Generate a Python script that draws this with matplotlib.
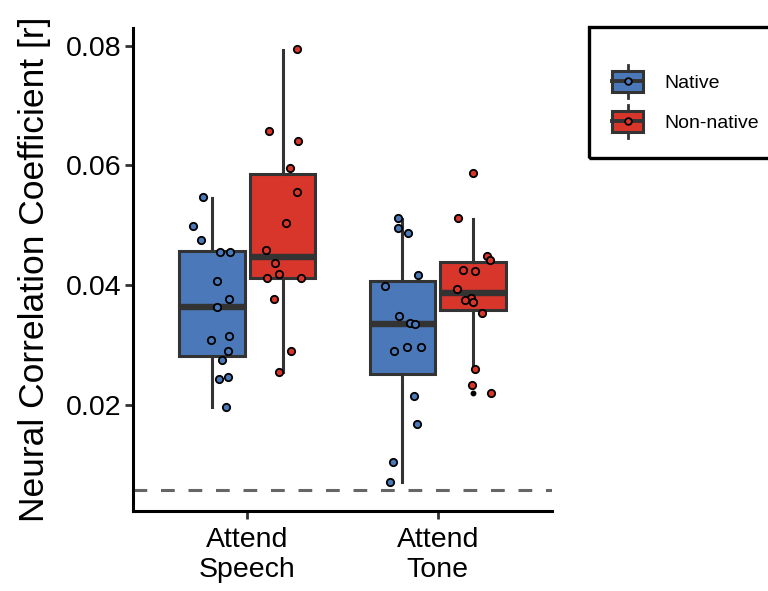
import matplotlib
matplotlib.use("Agg")
import matplotlib.pyplot as plt
from matplotlib.patches import Rectangle, Patch
from matplotlib.lines import Line2D
from matplotlib.legend_handler import HandlerBase

plt.rcParams['font.family'] = ['Liberation Sans', 'DejaVu Sans']

# ---------------- data ----------------
conditions = ["Attend\nSpeech", "Attend\nTone"]
groups = ["Native", "Non-native"]
colors = {"Native": "#4A78B8", "Non-native": "#D8352B"}
edge = "#333333"

# box statistics: (whislo, q1, med, q3, whishi)
box_stats = {
    ("Attend\nSpeech", "Native"):     (0.0196, 0.0282, 0.0363, 0.0457, 0.0545),
    ("Attend\nSpeech", "Non-native"): (0.0254, 0.0411, 0.0447, 0.0585, 0.0793),
    ("Attend\nTone", "Native"):       (0.0070, 0.0252, 0.0334, 0.0407, 0.0510),
    ("Attend\nTone", "Non-native"):   (0.0259, 0.0358, 0.0387, 0.0438, 0.0510),
}
outliers = {
    ("Attend\nSpeech", "Native"): [],
    ("Attend\nSpeech", "Non-native"): [],
    ("Attend\nTone", "Native"): [],
    ("Attend\nTone", "Non-native"): [0.0587, 0.0232, 0.0219],
}

# individual participant values
speech_native = [0.0547, 0.0499, 0.0475, 0.0456, 0.0456, 0.0406, 0.0377, 0.0363,
                 0.0308, 0.0314, 0.0290, 0.0274, 0.0243, 0.0247, 0.0196]
speech_nonnative = [0.0795, 0.0658, 0.0641, 0.0595, 0.0555, 0.0503, 0.0458, 0.0437,
                    0.0418, 0.0411, 0.0412, 0.0377, 0.0290, 0.0254]
tone_native = [0.0512, 0.0495, 0.0487, 0.0416, 0.0399, 0.0348, 0.0336, 0.0334,
               0.0296, 0.0297, 0.0289, 0.0214, 0.0167, 0.0104, 0.0070]
tone_nonnative = [0.0587, 0.0512, 0.0449, 0.0442, 0.0426, 0.0423, 0.0394, 0.0379,
                  0.0375, 0.0372, 0.0353, 0.0259, 0.0232, 0.0219]

# horizontal jitter of each point (category units), as seen in the figure
jit_speech_native = [-0.047, -0.099, -0.059, 0.040, 0.096, 0.028, 0.089, 0.028,
                     -0.005, 0.089, 0.084, 0.054, 0.038, 0.084, 0.072]
jit_speech_nonnative = [0.077, -0.070, 0.080, 0.038, 0.077, 0.017, -0.089, -0.038,
                        -0.019, -0.080, 0.098, -0.046, 0.046, -0.016]
jit_tone_native = [-0.021, -0.025, 0.028, 0.084, -0.093, -0.019, 0.040, 0.064,
                   0.023, 0.096, -0.047, 0.061, 0.077, -0.051, -0.068]
jit_tone_nonnative = [0.002, -0.080, 0.075, 0.087, -0.052, 0.012, -0.085, -0.012,
                      -0.042, -0.002, 0.046, 0.009, -0.004, 0.093]

points = {
    ("Attend\nSpeech", "Native"): (speech_native, jit_speech_native),
    ("Attend\nSpeech", "Non-native"): (speech_nonnative, jit_speech_nonnative),
    ("Attend\nTone", "Native"): (tone_native, jit_tone_native),
    ("Attend\nTone", "Non-native"): (tone_nonnative, jit_tone_nonnative),
}
chance_level = 0.0057

# ---------------- figure ----------------
fig = plt.figure(figsize=(7.68, 5.91), dpi=100)
ax = fig.add_axes([133/768, 1-511/591, (552-133)/768, (511-28)/591])

dodge = 0.185
box_w = 0.345

for ci, cond in enumerate(conditions):
    for gi, grp in enumerate(groups):
        pos = ci + 1 + (-dodge if gi == 0 else dodge)
        lo, q1, med, q3, hi = box_stats[(cond, grp)]
        st = [dict(whislo=lo, q1=q1, med=med, q3=q3, whishi=hi,
                   fliers=outliers[(cond, grp)])]
        ax.bxp(st, positions=[pos], widths=box_w, patch_artist=True,
               showcaps=False,
               boxprops=dict(facecolor=colors[grp], edgecolor=edge, linewidth=2.2),
               whiskerprops=dict(color=edge, linewidth=2.2),
               medianprops=dict(color=edge, linewidth=4.6, solid_capstyle='butt'),
               flierprops=dict(marker='o', markersize=3.2, markerfacecolor='black',
                               markeredgecolor='black'),
               zorder=2)
        vals, jit = points[(cond, grp)]
        xs = [pos + j for j in jit]
        ax.scatter(xs, vals, s=28, facecolor=colors[grp], edgecolor='black',
                   linewidth=1.3, zorder=4)

ax.axhline(chance_level, color="#666666", linewidth=2.2, dashes=(4.5, 4.5), zorder=1)

ax.set_xlim(0.4, 2.6)
ax.set_ylim(0.0022, 0.0830)
ax.set_xticks([1, 2])
ax.set_xticklabels(conditions)
ax.set_yticks([0.02, 0.04, 0.06, 0.08])
ax.set_yticklabels(["0.02", "0.04", "0.06", "0.08"])

for s in ['top', 'right']:
    ax.spines[s].set_visible(False)
for s in ['left', 'bottom']:
    ax.spines[s].set_linewidth(2.2)
    ax.spines[s].set_color('black')

ax.tick_params(axis='both', length=5.5, width=2.0, color=edge, labelsize=20.5,
               labelcolor='black', pad=3)
ax.tick_params(axis='x', pad=6)

ax.set_ylabel("Neural Correlation Coefficient [r]", fontsize=25.5)
ax.yaxis.set_label_coords(-0.195, 0.5)


# ---------------- legend ----------------
class BoxHandler(HandlerBase):
    def create_artists(self, legend, orig_handle, xdescent, ydescent, width,
                       height, fontsize, trans):
        fc = orig_handle.get_facecolor()
        x0, y0 = -xdescent, -ydescent
        cx, cy = x0 + width / 2, y0 + height / 2
        whisk = Line2D([cx, cx], [y0 - 4.5, y0 + height + 4.5], color=edge,
                       linewidth=2.0, transform=trans)
        rect = Rectangle((x0, y0), width, height, facecolor=fc, edgecolor=edge,
                         linewidth=2.2, transform=trans)
        med = Line2D([x0, x0 + width], [cy, cy], color=edge, linewidth=2.8,
                     transform=trans)
        dot = Line2D([cx], [cy], marker='o', markersize=4.8, markerfacecolor=fc,
                     markeredgecolor='black', markeredgewidth=1.3, linestyle='None',
                     transform=trans)
        return [whisk, rect, med, dot]


handles = [Patch(facecolor=colors[g]) for g in groups]
leg = fig.legend(handles, groups, handler_map={Patch: BoxHandler()},
                 loc='upper left', bbox_to_anchor=(612/768, 1-71/591),
                 frameon=False, fontsize=14, handlelength=1.6, handleheight=1.28,
                 labelspacing=0.97, handletextpad=1.1, borderpad=0,
                 borderaxespad=0)

frame = Rectangle((589/768, 1-158/591), (775-589)/768, (158-27)/591,
                  transform=fig.transFigure, facecolor='none', edgecolor='black',
                  linewidth=2.4, clip_on=False)
fig.patches.append(frame)

fig.savefig("out.png", dpi=100)
